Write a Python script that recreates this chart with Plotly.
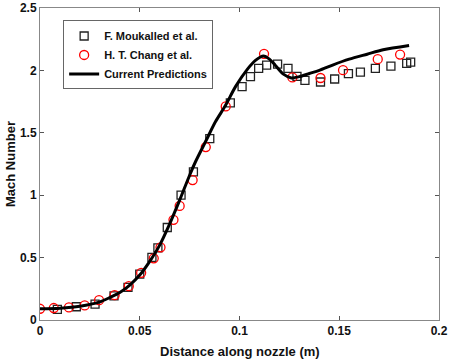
import plotly.graph_objects as go

# Moukalled et al. (squares)
mouk_x = [0.0087, 0.0182, 0.0276, 0.0371, 0.0441, 0.0500, 0.0561, 0.0591, 0.0638, 0.0707,
          0.0769, 0.0851, 0.0954, 0.1013, 0.1055, 0.1096, 0.1136, 0.1191, 0.1243, 0.1288,
          0.1328, 0.1406, 0.1477, 0.1546, 0.1606, 0.1681, 0.1759, 0.1838, 0.1858]
mouk_y = [0.085, 0.106, 0.127, 0.194, 0.261, 0.367, 0.502, 0.578, 0.741, 1.000,
          1.187, 1.453, 1.739, 1.870, 1.950, 2.016, 2.042, 2.050, 2.016, 1.952,
          1.920, 1.907, 1.931, 1.974, 1.986, 2.016, 2.034, 2.056, 2.066]

# H. T. Chang et al. (circles)
chang_x = [0.0, 0.0069, 0.0145, 0.0224, 0.0296, 0.0374, 0.0445, 0.0507, 0.0570, 0.0604,
           0.0669, 0.0700, 0.0765, 0.0831, 0.0931, 0.1123, 0.1265, 0.1406, 0.1519, 0.1693,
           0.1805]
chang_y = [0.090, 0.096, 0.101, 0.117, 0.159, 0.199, 0.271, 0.378, 0.494, 0.582,
           0.803, 0.914, 1.121, 1.386, 1.711, 2.133, 1.944, 1.939, 2.002, 2.090,
           2.127]

# Current predictions (line)
pred_x = [0, 0.01, 0.02, 0.03, 0.035, 0.04, 0.045, 0.05, 0.055, 0.06, 0.065, 0.07, 0.075,
          0.078, 0.083, 0.088, 0.093, 0.098, 0.104, 0.108, 0.112, 0.115, 0.118, 0.122,
          0.126, 0.13, 0.135, 0.14, 0.147, 0.155, 0.164, 0.172, 0.185]
pred_y = [0.09, 0.095, 0.11, 0.145, 0.18, 0.22, 0.28, 0.36, 0.47, 0.6, 0.77, 0.96, 1.16,
          1.27, 1.43, 1.59, 1.72, 1.87, 2.01, 2.08, 2.115, 2.09, 2.04, 1.97,
          1.94, 1.95, 1.975, 2.0, 2.045, 2.09, 2.13, 2.165, 2.2]

x_ticks = [0, 0.05, 0.1, 0.15, 0.2]
x_tick_labels = ["0", "0.05", "0.1", "0.15", "0.2"]
y_ticks = [0, 0.5, 1, 1.5, 2, 2.5]
y_tick_labels = ["0", "0.5", "1", "1.5", "2", "2.5"]

FONT = "Liberation Sans, Arial, sans-serif"

fig = go.Figure()
fig.add_trace(go.Scatter(x=mouk_x, y=mouk_y, mode="markers", name="F. Moukalled et al.",
                         marker=dict(symbol="square-open", size=8, color="#222222",
                                     line=dict(width=1.3))))
fig.add_trace(go.Scatter(x=chang_x, y=chang_y, mode="markers", name="H. T. Chang et al.",
                         marker=dict(symbol="circle-open", size=9, color="#ff0000",
                                     line=dict(width=1.3))))
fig.add_trace(go.Scatter(x=pred_x, y=pred_y, mode="lines", name="Current Predictions",
                         line=dict(color="black", width=3, shape="spline", smoothing=0.8)))

axis_common = dict(showline=True, linecolor="#888888", linewidth=1, mirror="ticks",
                   ticks="inside", ticklen=4, tickcolor="#555555", showgrid=False,
                   zeroline=False, automargin=False, ticklabeloverflow="allow",
                   tickfont=dict(family=FONT, size=12, color="#111111", weight="bold"))

PLOT_H = 360 - 8 - 40
PLOT_W = 449 - 40 - 10

fig.update_layout(
    width=449, height=360,
    margin=dict(l=40, r=10, t=8, b=40),
    paper_bgcolor="white", plot_bgcolor="white",
    xaxis=dict(range=[0, 0.2], tickvals=x_ticks, ticktext=x_tick_labels, **axis_common),
    yaxis=dict(range=[0, 2.5], tickvals=y_ticks, ticktext=y_tick_labels, **axis_common),
    legend=dict(x=0.058, y=0.96, xanchor="left", yanchor="top",
                bordercolor="#666666", borderwidth=1, bgcolor="white",
                font=dict(family=FONT, size=11, color="#111111", weight="bold"),
                tracegroupgap=0, itemwidth=30),
    showlegend=True,
    annotations=[
        dict(text="Distance along nozzle (m)", xref="paper", yref="paper",
             x=0.5, y=-31 / PLOT_H, xanchor="center", yanchor="middle", showarrow=False,
             font=dict(family=FONT, size=13, color="#111111", weight="bold")),
        dict(text="Mach Number", xref="paper", yref="paper", textangle=-90,
             x=-30 / PLOT_W, y=0.5, xanchor="center", yanchor="middle", showarrow=False,
             font=dict(family=FONT, size=13, color="#111111", weight="bold")),
    ],
)

fig.write_html("out.html", config={"displayModeBar": False},
               post_script="document.body.style.margin='0';document.body.style.overflow='hidden';")
